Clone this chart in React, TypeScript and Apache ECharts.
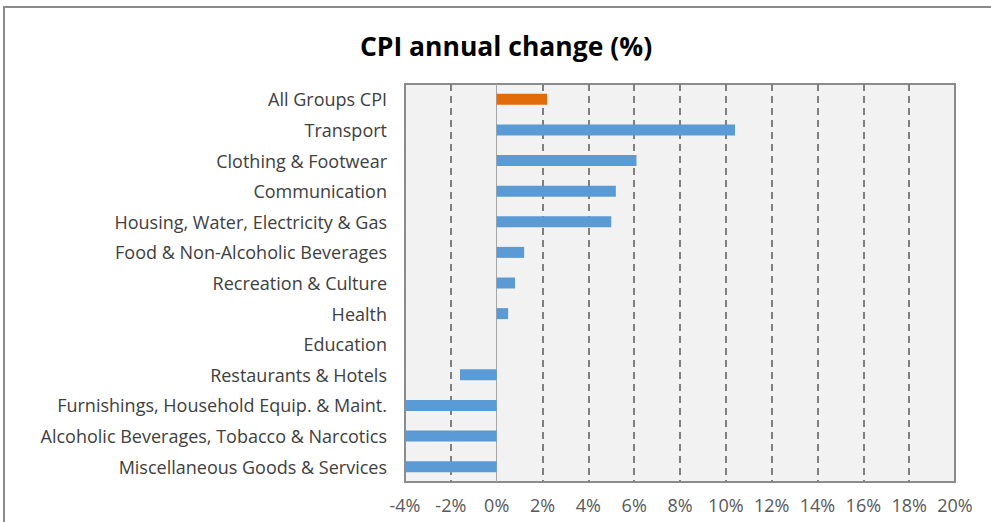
import React, { useEffect, useRef } from "react";
import * as echarts from "echarts";

const categories = [
  "All Groups CPI",
  "Transport",
  "Clothing & Footwear",
  "Communication",
  "Housing, Water, Electricity & Gas",
  "Food & Non-Alcoholic Beverages",
  "Recreation & Culture",
  "Health",
  "Education",
  "Restaurants & Hotels",
  "Furnishings, Household Equip. & Maint.",
  "Alcoholic Beverages, Tobacco & Narcotics",
  "Miscellaneous Goods & Services",
];
const values = [2.2, 10.4, 6.1, 5.2, 5.0, 1.2, 0.8, 0.5, 0, -1.6, -4.3, -4.4, -4.2];
const highlight = ["All Groups CPI"];
const gridValues = [-2, 2, 4, 6, 8, 10, 12, 14, 16, 18];
const xMin = -4;
const xMax = 20;
const xStep = 2;

const FONT = "'Open Sans', sans-serif";

export default function App() {
  const ref = useRef<HTMLDivElement>(null);
  useEffect(() => {
    if (!ref.current) return;
    const chart = echarts.init(ref.current, undefined, { renderer: "svg" });
    chart.setOption({
      animation: false,
      backgroundColor: "#ffffff",
      title: {
        text: "CPI annual change (%)",
        left: 501,
        top: 27,
        textAlign: "center",
        textStyle: { fontFamily: FONT, fontSize: 26.5, fontWeight: "bold", color: "#000000" },
      },
      graphic: [
        {
          type: "rect",
          shape: { x: 4, y: 7, width: 1010, height: 540 },
          style: { fill: "none", stroke: "#8c8c8c", lineWidth: 2 },
          silent: true,
          z: -10,
        },
      ],
      grid: {
        left: 405,
        top: 84,
        width: 550,
        height: 398,
        show: true,
        backgroundColor: "#f2f2f2",
        borderColor: "#8c8c8c",
        borderWidth: 2,
        containLabel: false,
      },
      xAxis: {
        type: "value",
        min: xMin,
        max: xMax,
        interval: xStep,
        axisLine: { show: false },
        axisTick: { show: false },
        splitLine: { show: false },
        axisLabel: {
          formatter: "{value}%",
          color: "#595959",
          fontFamily: FONT,
          fontSize: 18,
          margin: 14,
        },
      },
      yAxis: {
        type: "category",
        data: categories,
        inverse: true,
        axisLine: { show: false, onZero: false },
        axisTick: { show: false },
        splitLine: { show: false },
        axisLabel: {
          color: "#404040",
          fontFamily: FONT,
          fontSize: 18,
          margin: 18,
        },
      },
      series: [
        {
          type: "bar",
          barWidth: 11,
          clip: true,
          data: values.map((v, i) => ({
            value: v,
            itemStyle: { color: highlight.includes(categories[i]) ? "#e36c0a" : "#5b9bd5" },
          })),
          markLine: {
            silent: true,
            symbol: "none",
            label: { show: false },
            z: 1,
            data: [
              ...gridValues.map((g) => ({
                xAxis: g,
                lineStyle: { color: "#7f7f7f", width: 2, type: [7, 5] },
              })),
              { xAxis: 0, lineStyle: { color: "#a6a6a6", width: 1, type: "solid" } },
            ],
          },
          z: 3,
        },
      ],
    });
    return () => chart.dispose();
  }, []);
  return (
    <div
      ref={ref}
      style={{ position: "fixed", left: 0, top: 0, width: 991, height: 522 }}
    />
  );
}
